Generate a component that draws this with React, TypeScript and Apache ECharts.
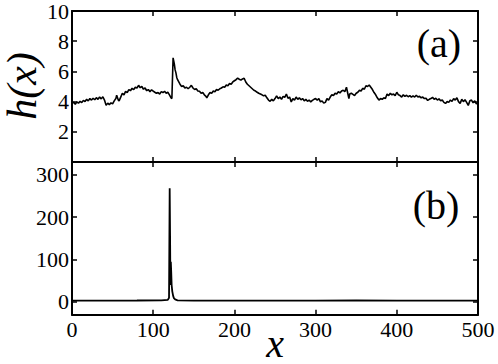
import React, { useEffect, useRef } from "react";
import * as echarts from "echarts";

// Panel (a): h(x)
const hData: [number, number][] = [
  [0,3.88],[2,3.95],[4,3.82],[6,3.98],[8,3.9],[10,4.02],[12,3.93],[14,4.08],[16,4.0],[18,4.15],[20,4.05],[22,4.2],[24,4.1],[26,4.22],[28,4.12],[30,4.26],[32,4.15],[34,4.3],[36,4.18],[38,4.32],[40,4.1],
  [42,3.75],[44,3.9],[46,3.8],[48,3.92],[50,3.85],[52,4.05],[54,4.2],[55,4.42],[57,4.1],[58,4.05],[60,4.3],
  [62,4.55],[64,4.45],[66,4.68],[68,4.6],[70,4.8],[72,4.72],[74,4.88],[76,4.8],[78,4.95],[80,4.9],[82,5.08],[84,4.92],[86,5.0],[88,4.82],[90,4.9],[92,4.72],[94,4.8],[96,4.65],[98,4.78],[100,4.7],[102,4.62],[104,4.55],[106,4.6],[108,4.5],[110,4.66],[112,4.6],[114,4.68],[116,4.55],[118,4.62],[120,4.45],[122,4.25],[123,4.2],
  [124.5,6.9],[126,6.5],[127,6.1],[128,5.9],[129,5.6],[130,5.45],[131,5.35],[133,5.15],[135,5.0],[137,5.05],[139,4.9],[141,4.95],[143,4.85],[145,4.95],[147,5.08],[149,4.9],[151,4.8],[153,4.85],[155,4.7],[157,4.68],[159,4.55],[161,4.6],[163,4.45],[165,4.35],[166,4.25],[168,4.45],[170,4.6],[172,4.55],[174,4.7],[176,4.65],[178,4.8],[180,4.75],[182,4.85],[184,4.9],[186,4.98],[188,4.95],[190,5.1],[192,5.05],[194,5.2],[196,5.15],[198,5.3],[200,5.38],[202,5.45],[204,5.55],[206,5.48],[208,5.42],[210,5.5],[212,5.55],[214,5.3],[216,5.15],[218,5.05],[220,4.95],[222,4.85],[224,4.75],[226,4.7],[228,4.62],[230,4.55],[232,4.5],[234,4.45],[236,4.38],[238,4.42],[240,4.25],[242,4.1],[244,4.02],[246,4.15],[248,4.05],[250,4.2],[252,4.38],[254,4.2],[256,4.3],[258,4.15],[260,4.35],[262,4.28],[264,4.5],[266,4.22],[268,4.3],[270,3.98],[272,4.2],[274,4.1],[276,4.3],[278,4.15],[280,4.25],[282,4.12],[284,4.2],[286,4.05],[288,4.15],[290,4.02],[292,4.1],[294,3.98],[296,4.08],[298,4.15],[300,4.2],[302,4.1],[304,4.2],[306,3.98],[308,4.05],[310,3.9],[312,3.95],[314,4.2],[316,4.1],[318,4.3],[320,4.45],[322,4.4],[324,4.55],[326,4.5],[328,4.65],[330,4.58],[332,4.7],[334,4.75],[336,4.65],[338,4.95],[339,4.7],[341,4.2],[342,4.5],[344,4.55],[346,4.48],[348,4.4],[350,4.55],[352,4.62],[354,4.75],[356,4.7],[358,4.88],[360,4.82],[362,5.05],[364,5.0],[366,5.1],[368,4.95],[370,4.8],[372,4.6],[374,4.45],[376,4.25],[378,4.1],[380,4.2],[382,4.15],[384,4.25],[386,4.2],[388,4.5],[390,4.4],[392,4.55],[394,4.45],[396,4.5],[398,4.4],[400,4.62],[402,4.45],[404,4.4],[406,4.3],[408,4.45],[410,4.35],[412,4.42],[414,4.32],[416,4.4],[418,4.3],[420,4.38],[422,4.3],[424,4.42],[426,4.3],[428,4.35],[430,4.25],[432,4.3],[434,4.2],[436,4.22],[438,4.08],[440,4.15],[442,4.2],[444,4.28],[446,4.15],[448,4.22],[450,4.1],[452,4.18],[454,4.05],[456,4.1],[458,3.95],[460,3.88],[462,4.0],[464,3.95],[466,4.1],[468,4.02],[470,4.2],[472,4.1],[474,4.25],[476,4.0],[478,3.88],[480,4.15],[482,4.0],[484,4.12],[486,3.95],[488,3.75],[490,4.05],[492,4.1],[494,3.92],[496,4.05],[498,3.85],[500,3.92]
];

// Panel (b)
const bData: [number, number][] = [
  [0,3],[40,3],[80,3.5],[110,4],[118,5],[119.5,10],[120.3,268],[120.8,150],[121.2,40],[121.7,95],[122.2,70],[122.7,40],[123.5,25],[124.5,15],[125.5,9],[127,6],[130,4],[150,3],[200,3],[250,3],[300,3],[350,3.5],[400,3],[450,3],[500,3]
];

const aTicks = [2, 4, 6, 8, 10];
const bTicks = [0, 100, 200, 300];

const FONT = "Liberation Serif";

function buildOption(): any {
  const axisLine = { show: true, onZero: false, lineStyle: { color: "#000", width: 2 } };
  const tick = { show: true, inside: true, length: 5, lineStyle: { color: "#000", width: 1.5 } };
  const lbl = { color: "#000", fontFamily: FONT, fontSize: 22 };
  const xBase = (grid: number, pos: string, showLabel: boolean) => ({
    type: "value",
    gridIndex: grid,
    position: pos,
    min: 0,
    max: 500,
    interval: 100,
    axisLine,
    axisTick: { ...tick },
    axisLabel: { ...lbl, show: showLabel, margin: 4 },
    splitLine: { show: false },
  });
  return {
    animation: false,
    textStyle: { fontFamily: FONT },
    grid: [
      { left: 72, top: 10, width: 406, height: 152 },
      { left: 72, top: 162, width: 406, height: 152.7 },
    ],
    xAxis: [
      xBase(0, "bottom", false),
      xBase(0, "top", false),
      xBase(1, "bottom", true),
      xBase(1, "top", false),
    ],
    yAxis: [
      {
        type: "value", gridIndex: 0, position: "left", min: 0, max: 10, interval: 2,
        axisLine, axisTick: { ...tick, customValues: aTicks },
        axisLabel: { ...lbl, margin: 3, customValues: aTicks },
        splitLine: { show: false },
      },
      {
        type: "value", gridIndex: 0, position: "right", min: 0, max: 10, interval: 2,
        axisLine, axisTick: { ...tick, customValues: aTicks },
        axisLabel: { show: false },
        splitLine: { show: false },
      },
      {
        type: "value", gridIndex: 1, position: "left", min: -30, max: 330,
        axisLine, axisTick: { ...tick, customValues: bTicks },
        axisLabel: { ...lbl, margin: 3, customValues: bTicks },
        splitLine: { show: false },
      },
      {
        type: "value", gridIndex: 1, position: "right", min: -30, max: 330,
        axisLine, axisTick: { ...tick, customValues: bTicks },
        axisLabel: { show: false, customValues: bTicks },
        splitLine: { show: false },
      },
    ],
    series: [
      {
        type: "line", xAxisIndex: 0, yAxisIndex: 0, data: hData,
        showSymbol: false, symbol: "none",
        lineStyle: { color: "#000", width: 1.6 },
      },
      {
        type: "line", xAxisIndex: 2, yAxisIndex: 2, data: bData,
        showSymbol: false, symbol: "none",
        lineStyle: { color: "#000", width: 1.8 },
      },
    ],
    graphic: [
      {
        type: "text", x: 22, y: 86, rotation: Math.PI / 2,
        style: {
          text: "h(x)", fontStyle: "italic", fontSize: 42, fontFamily: FONT, fill: "#000",
          align: "center", verticalAlign: "middle",
        },
      },
      {
        type: "text", x: 275, y: 343,
        style: {
          text: "x", fontStyle: "italic", fontSize: 40, fontFamily: FONT, fill: "#000",
          align: "center", verticalAlign: "middle",
        },
      },
      {
        type: "text", x: 439, y: 43,
        style: {
          text: "(a)", fontSize: 40, fontFamily: FONT, fill: "#000",
          align: "center", verticalAlign: "middle",
        },
      },
      {
        type: "text", x: 436, y: 205,
        style: {
          text: "(b)", fontSize: 40, fontFamily: FONT, fill: "#000",
          align: "center", verticalAlign: "middle",
        },
      },
    ],
  };
}

export default function App() {
  const ref = useRef<HTMLDivElement>(null);
  useEffect(() => {
    if (!ref.current) return;
    const chart = echarts.init(ref.current, null, { renderer: "svg" });
    chart.setOption(buildOption());
    let alive = true;
    const fonts: any = (document as any).fonts;
    if (fonts && fonts.load) {
      Promise.all([
        fonts.load('22px "Liberation Serif"'),
        fonts.load('italic 40px "Liberation Serif"'),
      ]).then(() => {
        if (!alive) return;
        chart.clear();
        chart.setOption(buildOption());
      }).catch(() => {});
    }
    return () => {
      alive = false;
      chart.dispose();
    };
  }, []);
  return (
    <div style={{ position: "absolute", left: 0, top: 0, width: 498, height: 364 }}>
      <span
        aria-hidden="true"
        style={{ position: "absolute", left: 0, top: 0, fontFamily: FONT, fontSize: 22, visibility: "hidden" }}
      >
        0
      </span>
      <div ref={ref} style={{ position: "absolute", left: 0, top: 0, width: 498, height: 364 }} />
    </div>
  );
}
